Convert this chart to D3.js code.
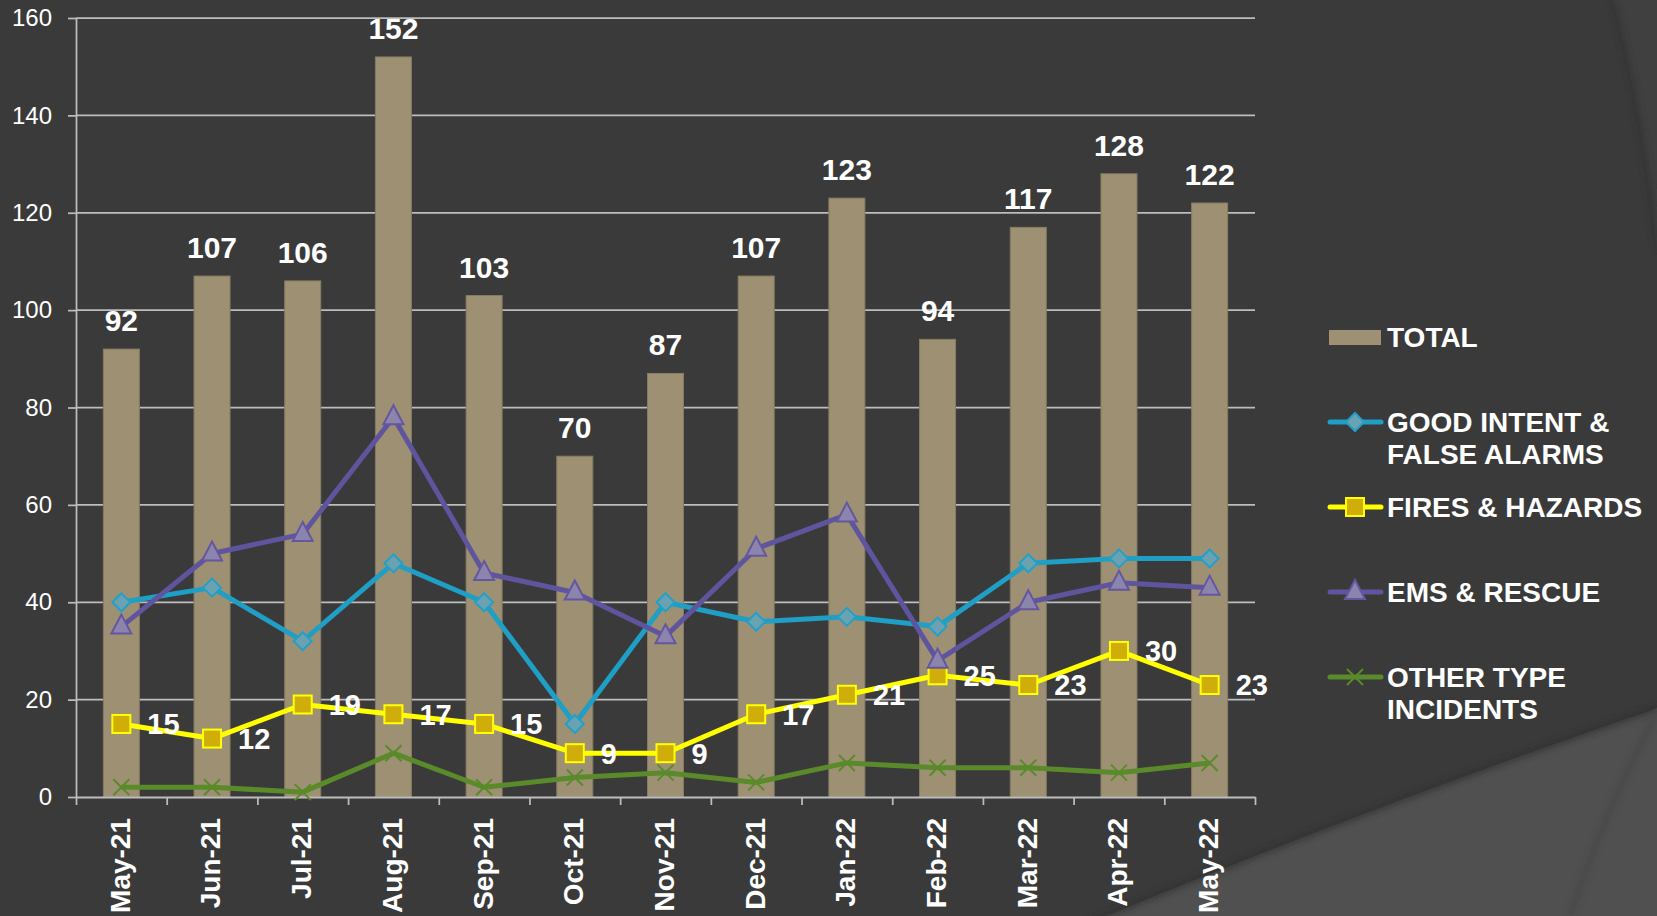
<!DOCTYPE html>
<html>
<head>
<meta charset="utf-8">
<script src="https://cdn.jsdelivr.net/npm/d3@7"></script>
<style>
  html, body { margin: 0; padding: 0; background: #3a3a3a; }
  svg { display: block; font-family: "Liberation Sans", Arial, sans-serif; }
</style>
</head>
<body>
<div id="chart"></div>
<script>
var width = 1657;
var height = 916;

// data
var months = ["May-21", "Jun-21", "Jul-21", "Aug-21", "Sep-21", "Oct-21", "Nov-21",
              "Dec-21", "Jan-22", "Feb-22", "Mar-22", "Apr-22", "May-22"];
var total      = [92, 107, 106, 152, 103, 70, 87, 107, 123, 94, 117, 128, 122];
var goodIntent = [40, 43, 32, 48, 40, 15, 40, 36, 37, 35, 48, 49, 49];
var fires      = [15, 12, 19, 17, 15, 9, 9, 17, 21, 25, 23, 30, 23];
var ems        = [35, 50, 54, 78, 46, 42, 33, 51, 58, 28, 40, 44, 43];
var other      = [2, 2, 1, 9, 2, 4, 5, 3, 7, 6, 6, 5, 7];
var yTicks     = [0, 20, 40, 60, 80, 100, 120, 140, 160];

var series = [
  { name: ["GOOD INTENT &", "FALSE ALARMS"], values: goodIntent, line: "#1f9ec6", fill: "#6ba2b2", stroke: "#22a0c8", marker: "diamond" },
  { name: ["FIRES & HAZARDS"], values: fires, line: "#ffff00", fill: "#cfae0a", stroke: "#ffff00", marker: "square", labels: true },
  { name: ["EMS & RESCUE"], values: ems, line: "#5f559e", fill: "#8b84ad", stroke: "#6556a0", marker: "triangle" },
  { name: ["OTHER TYPE", "INCIDENTS"], values: other, line: "#5a8a2a", fill: "none", stroke: "#5a8a2a", marker: "cross" }
];

var svg = d3.select("#chart").append("svg")
    .attr("width", width)
    .attr("height", height);

// slide background
svg.append("rect").attr("width", width).attr("height", height).attr("fill", "#3a3a3a");
var defs = svg.append("defs");
var sh = defs.append("filter").attr("id", "soft").attr("x", "-20%").attr("y", "-20%").attr("width", "140%").attr("height", "140%");
sh.append("feGaussianBlur").attr("stdDeviation", 3);

svg.append("path")
    .attr("d", "M1613,0 Q1642,110 1657,250 L1657,0 Z")
    .attr("fill", "#404040");
svg.append("path")
    .attr("d", "M1613,0 Q1642,110 1657,250")
    .attr("fill", "none").attr("stroke", "#303030").attr("stroke-width", 4)
    .attr("filter", "url(#soft)");
svg.append("path")
    .attr("d", "M1000,960 Q1330,820 1657,708 L1657,916 L1000,916 Z")
    .attr("fill", "#505050");
svg.append("path")
    .attr("d", "M1000,960 Q1330,820 1657,708")
    .attr("fill", "none").attr("stroke", "#2e2e2e").attr("stroke-width", 4)
    .attr("filter", "url(#soft)");
svg.append("path")
    .attr("d", "M1657,712 Q1605,810 1570,916")
    .attr("fill", "none").attr("stroke", "#454545").attr("stroke-width", 4)
    .attr("filter", "url(#soft)");

var x0 = 76, x1 = 1255;
var x = d3.scaleBand().domain(months).range([x0, x1]);
var y = d3.scaleLinear().domain([0, 160]).range([797, 18]);
var cx = function(i) { return x(months[i]) + x.bandwidth() / 2; };
var barW = 36;
var grid = "#bdbdbd";

// gridlines
svg.append("g").selectAll("line")
    .data(yTicks.filter(function(d) { return d > 0; }))
    .enter().append("line")
    .attr("x1", x0).attr("x2", x1)
    .attr("y1", function(d) { return y(d); })
    .attr("y2", function(d) { return y(d); })
    .attr("stroke", grid).attr("stroke-width", 1.75);

// y axis
var yAxis = svg.append("g")
    .attr("transform", "translate(" + x0 + ",0)")
    .call(d3.axisLeft(y).tickValues(yTicks).tickSize(8).tickSizeOuter(0).tickPadding(16));
yAxis.select(".domain").attr("stroke", grid).attr("stroke-width", 1.75);
yAxis.selectAll(".tick line").attr("stroke", grid).attr("stroke-width", 1.75);
yAxis.selectAll(".tick text")
    .attr("fill", "#ffffff").style("font-size", "24px")
    .style("font-family", "'Liberation Sans', Arial, sans-serif");

// bars
svg.append("g").selectAll("rect")
    .data(total)
    .enter().append("rect")
    .attr("x", function(d, i) { return cx(i) - barW / 2; })
    .attr("y", function(d) { return y(d); })
    .attr("width", barW)
    .attr("height", function(d) { return y(0) - y(d); })
    .attr("fill", "#9e9173")
    .attr("stroke", "#877c63").attr("stroke-width", 1);

// x axis
var xi = d3.scaleLinear().domain([0, months.length]).range([x0, x1]);
var xAxis = svg.append("g")
    .attr("transform", "translate(0," + y(0) + ")")
    .call(d3.axisBottom(xi).tickValues(d3.range(months.length + 1)).tickSize(8).tickSizeOuter(0).tickFormat(""));
xAxis.select(".domain").attr("stroke", grid).attr("stroke-width", 2);
xAxis.selectAll(".tick line").attr("stroke", grid).attr("stroke-width", 1.75);

svg.append("g").selectAll("text")
    .data(months)
    .enter().append("text")
    .attr("transform", function(d, i) { return "translate(" + cx(i) + ",818) rotate(-90)"; })
    .attr("dy", "0.3em")
    .attr("text-anchor", "end")
    .attr("fill", "#ffffff")
    .style("font-size", "28px").style("font-weight", "bold")
    .text(function(d) { return d; });

// markers
function drawMarker(g, s, px, py) {
  if (s.marker === "diamond") {
    g.append("path")
      .attr("d", "M" + px + "," + (py - 9) + " L" + (px + 9) + "," + py + " L" + px + "," + (py + 9) + " L" + (px - 9) + "," + py + " Z")
      .attr("fill", s.fill).attr("stroke", s.stroke).attr("stroke-width", 2);
  } else if (s.marker === "square") {
    g.append("rect")
      .attr("x", px - 9).attr("y", py - 9).attr("width", 18).attr("height", 18)
      .attr("fill", s.fill).attr("stroke", s.stroke).attr("stroke-width", 2);
  } else if (s.marker === "triangle") {
    g.append("path")
      .attr("d", "M" + px + "," + (py - 12) + " L" + (px + 10) + "," + (py + 7) + " L" + (px - 10) + "," + (py + 7) + " Z")
      .attr("fill", s.fill).attr("stroke", s.stroke).attr("stroke-width", 2);
  } else {
    g.append("path")
      .attr("d", "M" + (px - 8) + "," + (py - 8) + " L" + (px + 8) + "," + (py + 8) + " M" + (px + 8) + "," + (py - 8) + " L" + (px - 8) + "," + (py + 8))
      .attr("fill", "none").attr("stroke", s.stroke).attr("stroke-width", 2);
  }
}

var line = d3.line()
    .x(function(d, i) { return cx(i); })
    .y(function(d) { return y(d); });

series.forEach(function(s) {
  var g = svg.append("g");
  g.append("path")
    .datum(s.values)
    .attr("d", line)
    .attr("fill", "none")
    .attr("stroke", s.line)
    .attr("stroke-width", 5)
    .attr("stroke-linejoin", "round");
  s.values.forEach(function(v, i) { drawMarker(g, s, cx(i), y(v)); });
});

// data labels
svg.append("g").selectAll("text")
    .data(total)
    .enter().append("text")
    .attr("x", function(d, i) { return cx(i); })
    .attr("y", function(d) { return y(d) - 18; })
    .attr("text-anchor", "middle")
    .attr("fill", "#ffffff")
    .style("font-size", "30px").style("font-weight", "bold")
    .text(function(d) { return d; });

svg.append("g").selectAll("text")
    .data(fires)
    .enter().append("text")
    .attr("x", function(d, i) { return cx(i) + 26; })
    .attr("y", function(d) { return y(d); })
    .attr("dy", "0.36em")
    .attr("fill", "#ffffff")
    .style("font-size", "29px").style("font-weight", "bold")
    .text(function(d) { return d; });

// legend
var lg = svg.append("g");
lg.append("rect").attr("x", 1329).attr("y", 330).attr("width", 52).attr("height", 15).attr("fill", "#9e9173");
lg.append("text").attr("x", 1387).attr("y", 347).attr("fill", "#fff")
    .style("font-size", "28px").style("font-weight", "bold").text("TOTAL");

var legendY = [422, 507, 592, 677];
series.forEach(function(s, k) {
  var ly = legendY[k];
  lg.append("line")
    .attr("x1", 1330).attr("x2", 1381).attr("y1", ly).attr("y2", ly)
    .attr("stroke", s.line).attr("stroke-width", 5).attr("stroke-linecap", "round");
  drawMarker(lg, s, 1355, ly);
  s.name.forEach(function(t, j) {
    lg.append("text")
      .attr("x", 1387).attr("y", ly + 10 + j * 32)
      .attr("fill", "#fff")
      .style("font-size", "28px").style("font-weight", "bold")
      .text(t);
  });
});
</script>
</body>
</html>
